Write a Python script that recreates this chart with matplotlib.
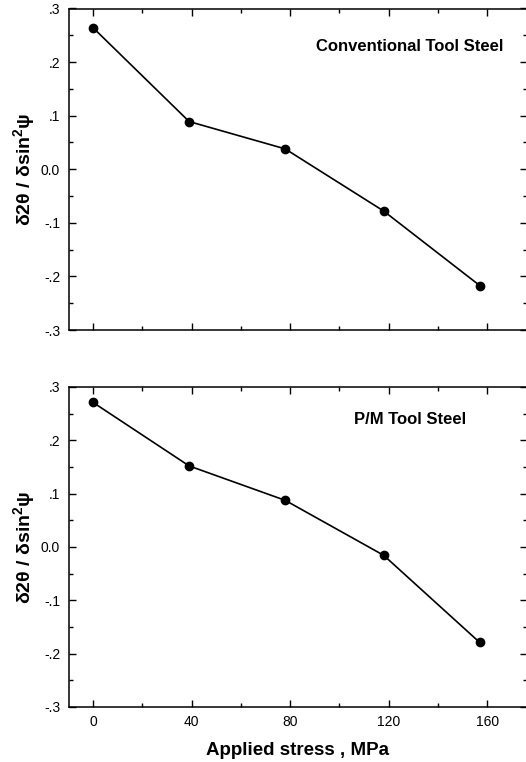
import matplotlib
matplotlib.use("Agg")
import matplotlib.pyplot as plt
from matplotlib.ticker import MultipleLocator, FuncFormatter

stress = [0, 39, 78, 118, 157]
conventional = [0.264, 0.089, 0.038, -0.078, -0.217]
pm = [0.271, 0.152, 0.0875, -0.0156, -0.179]
titles = ["Conventional Tool Steel", "P/M Tool Steel"]
xticks = [0, 40, 80, 120, 160]
ylabel = r"$\mathbf{\delta 2\theta\ /\ \delta sin^2\psi}$"

plt.rcParams['font.family'] = ['Liberation Sans', 'DejaVu Sans']
plt.rcParams['mathtext.fontset'] = 'custom'
plt.rcParams['mathtext.rm'] = 'Liberation Sans'
plt.rcParams['mathtext.bf'] = 'Liberation Sans:bold'
plt.rcParams['mathtext.it'] = 'Liberation Sans:italic'

fig = plt.figure(figsize=(5.26, 7.62), dpi=100)
W, H = 526, 762

def fmt(v, pos):
    if abs(v) < 1e-9:
        return "0.0"
    s = f"{v:.1f}"
    return s.replace("0.", ".")

def make_ax(top_px, bot_px):
    left, right = 68.5, 526.5
    return fig.add_axes([left / W, 1 - bot_px / H, (right - left) / W, (bot_px - top_px) / H])

axes = [make_ax(8.5, 330), make_ax(387, 707)]
series = [conventional, pm]
label_pos = [(0.745, 0.881), (0.745, 0.897)]

for i, ax in enumerate(axes):
    ax.plot(stress, series[i], color='black', lw=1.2, marker='o', ms=6)
    ax.set_xlim(-10, 176)
    ax.set_ylim(-0.3, 0.3)
    ax.set_xticks(xticks)
    ax.xaxis.set_minor_locator(MultipleLocator(20))
    ax.yaxis.set_major_locator(MultipleLocator(0.1))
    ax.yaxis.set_minor_locator(MultipleLocator(0.05))
    ax.yaxis.set_major_formatter(FuncFormatter(fmt))
    ax.tick_params(which='both', direction='in', top=True, right=True, labelsize=10, width=1)
    ax.tick_params(which='major', length=5, pad=6)
    ax.tick_params(which='minor', length=3)
    for s in ax.spines.values():
        s.set_linewidth(1.1)
    ax.set_ylabel(ylabel, fontsize=14, labelpad=3)
    ax.text(label_pos[i][0], label_pos[i][1], titles[i], transform=ax.transAxes,
            ha='center', va='center', fontsize=12, fontweight='bold')

axes[0].tick_params(labelbottom=False)
axes[1].set_xlabel("Applied stress , MPa", fontsize=13.5, fontweight='bold', labelpad=9)

fig.savefig("out.png", dpi=100)
